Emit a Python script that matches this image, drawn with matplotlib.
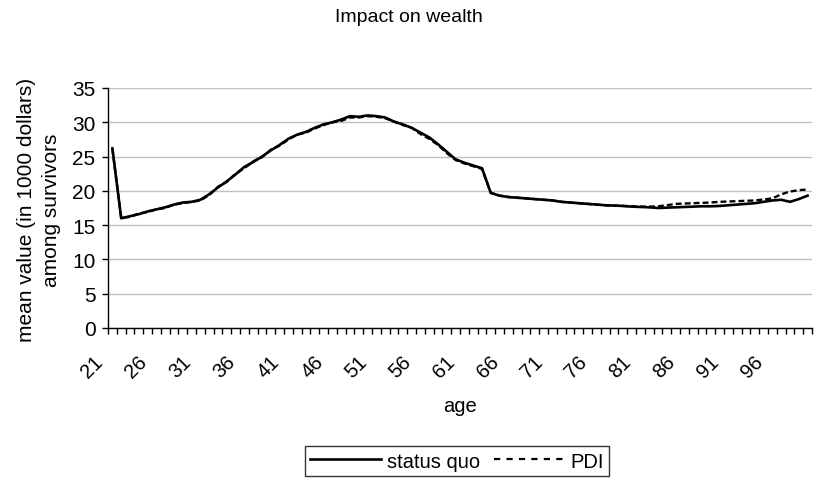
import matplotlib
matplotlib.use("Agg")
import matplotlib.pyplot as plt
from matplotlib.lines import Line2D
from matplotlib.transforms import ScaledTranslation, blended_transform_factory

plt.rcParams['font.family'] = ['Liberation Sans', 'DejaVu Sans']

# ---- data ----
ages = list(range(21, 101))

status_quo = [26.2, 16.0, 16.3, 16.6, 17.0, 17.3, 17.6, 18.0, 18.3, 18.4,
              18.7, 19.5, 20.5, 21.4, 22.4, 23.5, 24.2, 25.0, 25.9, 26.7,
              27.6, 28.2, 28.6, 29.2, 29.7, 30.0, 30.4, 30.9, 30.8, 31.0,
              30.9, 30.7, 30.1, 29.7, 29.2, 28.5, 27.8, 26.8, 25.7, 24.6,
              24.1, 23.7, 23.3, 19.7, 19.3, 19.1, 19.0, 18.9, 18.8, 18.7,
              18.6, 18.4, 18.3, 18.2, 18.1, 18.0, 17.9, 17.85, 17.8, 17.7,
              17.65, 17.6, 17.5, 17.55, 17.6, 17.65, 17.7, 17.75, 17.75, 17.8,
              17.9, 18.0, 18.1, 18.2, 18.4, 18.6, 18.7, 18.4, 18.8, 19.3]

pdi = [26.1, 16.1, 16.2, 16.7, 16.9, 17.3, 17.5, 18.0, 18.2, 18.4,
       18.6, 19.4, 20.6, 21.3, 22.5, 23.3, 24.3, 24.9, 26.0, 26.6,
       27.5, 28.2, 28.5, 29.1, 29.6, 30.0, 30.2, 30.7, 30.7, 30.9,
       30.8, 30.6, 30.1, 29.6, 29.2, 28.3, 27.6, 26.7, 25.5, 24.5,
       24.0, 23.6, 23.2, 19.7, 19.3, 19.1, 19.0, 18.9, 18.8, 18.7,
       18.6, 18.4, 18.3, 18.2, 18.1, 18.0, 17.9, 17.85, 17.8, 17.75,
       17.7, 17.7, 17.75, 17.9, 18.1, 18.15, 18.2, 18.25, 18.3, 18.4,
       18.45, 18.5, 18.55, 18.6, 18.75, 18.9, 19.5, 19.9, 20.1, 20.2]

label_ages = ages[::5]
y_ticks = [0, 5, 10, 15, 20, 25, 30, 35]

# ---- figure ----
W, H = 817, 481
fig = plt.figure(figsize=(W / 100, H / 100), dpi=100)
ax = fig.add_axes([108 / W, 1 - 329 / H, 704 / W, 240 / H])

x = list(range(len(ages)))
ax.plot(x, status_quo, color="black", lw=1.9, solid_joinstyle="round")
ax.plot(x, pdi, color="black", lw=1.7, linestyle=(0, (2.5, 1.3)))

ax.set_xlim(-0.5, len(ages) - 0.5)
ax.set_ylim(0, 35)
ax.set_yticks(y_ticks)
ax.grid(axis="y", color="#c0c0c0", lw=1.0)
ax.set_axisbelow(True)

for s in ["top", "right"]:
    ax.spines[s].set_visible(False)
ax.spines["left"].set_linewidth(1.0)
ax.spines["bottom"].set_linewidth(1.0)

# ticks between categories, labels every 5th age
ax.set_xticks([i - 0.5 for i in range(len(ages) + 1)])
ax.set_xticklabels([])
ax.tick_params(axis="x", direction="out", length=4.5, width=1.0)
ax.tick_params(axis="y", direction="out", length=4, width=1.0, pad=5, labelsize=15)

trans = blended_transform_factory(ax.transData, ax.transAxes) + \
    ScaledTranslation(-0.20, -0.385, fig.dpi_scale_trans)
for a in label_ages:
    ax.text(ages.index(a), 0, str(a), transform=trans, rotation=45,
            ha="center", va="center", rotation_mode="anchor", fontsize=14.5)

fig.text(408.5 / W, 1 - 17 / H, "Impact on wealth", ha="center", va="center", fontsize=14)
fig.text(460 / W, 1 - 406 / H, "age", ha="center", va="center", fontsize=14.5)
fig.text(39 / W, 1 - 210 / H, "mean value (in 1000 dollars)\namong survivors",
         rotation=90, ha="center", va="center", multialignment="center",
         fontsize=15, linespacing=1.4)

handles = [Line2D([], [], color="black", lw=1.9),
           Line2D([], [], color="black", lw=1.6, linestyle=(0, (2.8, 2.8)))]
leg = fig.legend(handles, ["status quo", "PDI"], ncol=2, loc="center",
                 bbox_to_anchor=(457 / W, 1 - 462 / H), fontsize=14.5,
                 frameon=True, fancybox=False, handlelength=3.5,
                 handletextpad=0.3, columnspacing=0.7, borderpad=0.25,
                 borderaxespad=0)
leg.get_frame().set_edgecolor("black")
leg.get_frame().set_linewidth(1.0)

fig.savefig("out.png", dpi=100)
